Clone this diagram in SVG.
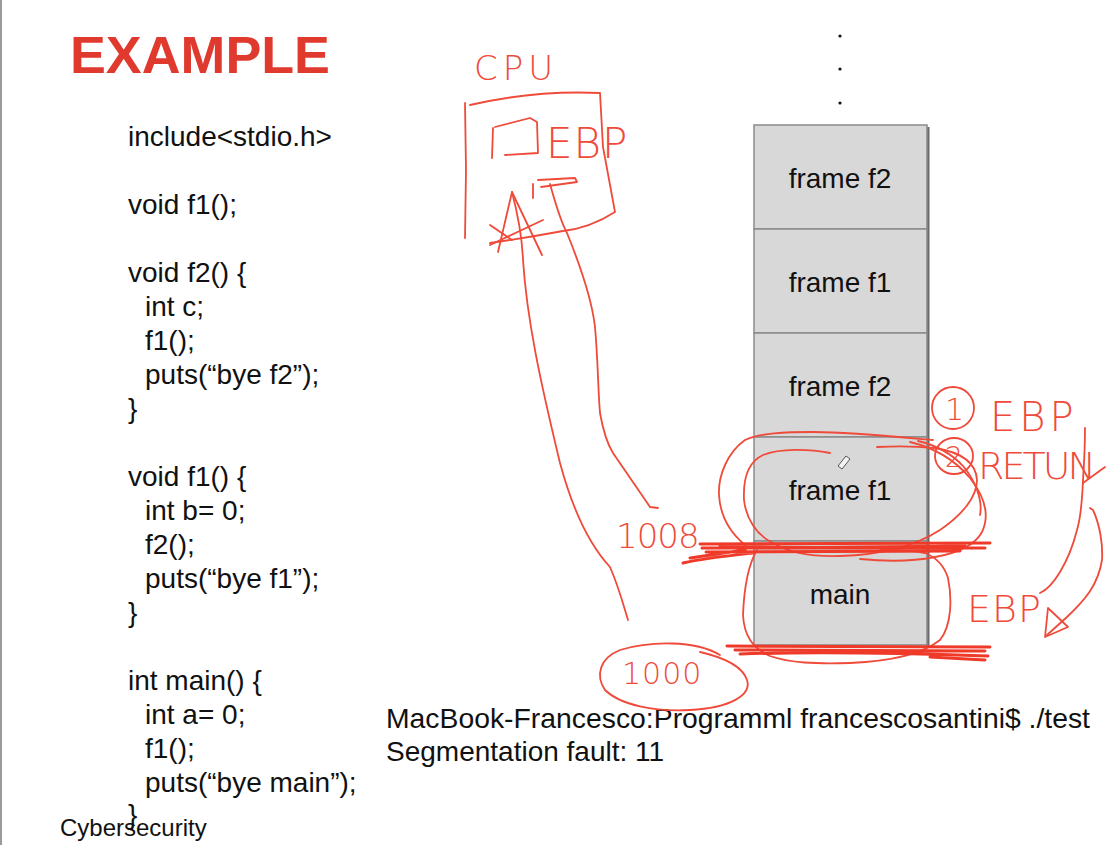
<svg xmlns="http://www.w3.org/2000/svg" width="1115" height="845" viewBox="0 0 1115 845">
<defs>
<style>
.code{font-family:"Liberation Sans",Arial,sans-serif;font-size:28px;fill:#111}
.frame rect.box{fill:#d8d8d8;stroke:#8a8a8a;stroke-width:1.5}
.frame rect.sh{fill:#6a6a6a}
.lbl{font-family:"Liberation Sans",Arial,sans-serif;font-size:28px;fill:#111;text-anchor:middle}
.ink{fill:none;stroke:#ef4a3a;stroke-width:1.8;stroke-linecap:round;stroke-linejoin:round}
.inkb{fill:none;stroke:#ef3a2a;stroke-width:3;stroke-linecap:round}
.hw{font-family:"DejaVu Sans",sans-serif;font-weight:200;fill:#ef4a3a}
</style>
</defs>
<rect width="1115" height="845" fill="#ffffff"/>
<rect x="0" y="0" width="2" height="845" fill="#9a9a9a"/>

<g id="title">
<text x="70" y="73" font-family="Liberation Sans,Arial,sans-serif" font-weight="bold" font-size="51" fill="#e03a2f" textLength="260" lengthAdjust="spacingAndGlyphs">EXAMPLE</text>
</g>

<g id="code">
<text class="code" x="128" y="146">include&lt;stdio.h&gt;</text>
<text class="code" x="128" y="214">void f1();</text>
<text class="code" x="128" y="282">void f2() {</text>
<text class="code" x="145" y="316">int c;</text>
<text class="code" x="145" y="350">f1();</text>
<text class="code" x="145" y="384">puts(“bye f2”);</text>
<text class="code" x="128" y="418">}</text>
<text class="code" x="128" y="486">void f1() {</text>
<text class="code" x="145" y="520">int b= 0;</text>
<text class="code" x="145" y="554">f2();</text>
<text class="code" x="145" y="588">puts(“bye f1”);</text>
<text class="code" x="128" y="622">}</text>
<text class="code" x="128" y="690">int main() {</text>
<text class="code" x="145" y="724">int a= 0;</text>
<text class="code" x="145" y="758">f1();</text>
<text class="code" x="145" y="792">puts(“bye main”);</text>
<text class="code" x="128" y="824">}</text>
</g>

<g id="footer">
<text x="60" y="836" font-family="Liberation Sans,Arial,sans-serif" font-size="24" fill="#111">Cybersecurity</text>
</g>

<g id="dots" fill="#111">
<circle cx="840" cy="36" r="1.6"/>
<circle cx="840" cy="69" r="1.6"/>
<circle cx="840" cy="103" r="1.6"/>
</g>

<g id="frame-f2-top" class="frame">
<rect class="sh" x="927" y="127" width="2.5" height="104"/>
<rect class="box" x="754" y="125" width="173" height="104"/>
<text class="lbl" x="840" y="188">frame f2</text>
</g>
<g id="frame-f1-upper" class="frame">
<rect class="sh" x="927" y="231" width="2.5" height="104"/>
<rect class="box" x="754" y="229" width="173" height="104"/>
<text class="lbl" x="840" y="292">frame f1</text>
</g>
<g id="frame-f2-lower" class="frame">
<rect class="sh" x="927" y="335" width="2.5" height="104"/>
<rect class="box" x="754" y="333" width="173" height="104"/>
<text class="lbl" x="840" y="396">frame f2</text>
</g>
<g id="frame-f1-lower" class="frame">
<rect class="sh" x="927" y="439" width="2.5" height="104"/>
<rect class="box" x="754" y="437" width="173" height="104"/>
<text class="lbl" x="840" y="500">frame f1</text>
</g>
<g id="frame-main" class="frame">
<rect class="sh" x="927" y="543" width="2.5" height="104"/>
<rect class="box" x="754" y="541" width="173" height="104"/>
<text class="lbl" x="840" y="604">main</text>
</g>

<g id="terminal">
<text x="386" y="728" font-family="Liberation Sans,Arial,sans-serif" font-size="28" fill="#111" textLength="704" lengthAdjust="spacingAndGlyphs">MacBook-Francesco:Programml francescosantini$ ./test</text>
<text x="386" y="761" font-family="Liberation Sans,Arial,sans-serif" font-size="28" fill="#111">Segmentation fault: 11</text>
</g>

<g id="cpu">
<text class="hw" x="474" y="80" font-size="34" letter-spacing="5">CPU</text>
<path class="ink" d="M465,103 L466,170 L465,238"/>
<path class="ink" d="M470,105 Q535,90 600,93 L603,147 L615,212 Q590,228 563,231 Q525,238 490,243"/>
<path class="ink" d="M493,128 L492,158 M495,127 L530,118 L537,122 L538,153 L505,155"/>
<text class="hw" x="546" y="158" font-size="42" letter-spacing="1">EBP</text>
<path class="ink" d="M533,184 L533,198 M538,180 L575,178 L577,182 L541,187"/>
</g>

<g id="connectors">
<path class="ink" d="M512,192 C518,215 522,235 523,260 C527,320 540,380 560,463 C570,500 585,540 610,567 C618,585 622,600 628,620"/>
<path class="ink" d="M498,252 L512,192 L542,255"/>
<path class="ink" d="M490,225 L512,240 M490,245 L543,220"/>
<path class="ink" d="M550,184 C556,205 560,220 567,233 C582,270 592,300 595,327 C598,360 598,390 600,413 C603,430 608,445 613,453 C628,475 640,492 650,507 L658,508"/>
<path class="ink" d="M1085,428 C1085,450 1084,465 1083,480 C1082,505 1080,520 1077,530 C1072,550 1066,562 1060,572 C1054,582 1047,590 1040,593"/>
<path class="ink" d="M1083,483 L1105,467"/>
<path class="ink" d="M1090,508 L1093,510 C1100,525 1103,545 1102,560 C1098,585 1085,600 1067,617 L1047,635"/>
<path class="ink" d="M1048,608 L1068,627 L1045,637 Z"/>
</g>

<g id="stack-marks">
<path class="ink" d="M830,453 C810,449 780,448 763,455 C748,462 743,480 744,500 C746,518 756,535 773,543 C790,553 810,557 840,556 C880,555 915,546 940,530 C962,515 977,497 977,480 C976,462 960,452 935,448 C915,446 895,446 877,447"/>
<path class="ink" d="M933,440 C900,437 850,432 813,432 C785,432 760,433 745,440 C728,452 718,475 719,495 C720,512 727,530 745,545 M910,442 C935,448 955,460 970,478 C985,497 990,515 982,532 C975,545 958,553 935,557 C910,562 880,561 860,559"/>
<path class="ink" d="M757,550 C748,565 744,590 743,615 C744,635 752,648 770,656 C790,663 815,664 850,663 C895,661 925,652 940,640 C952,625 952,598 948,578 C944,565 935,557 925,553 C905,549 890,550 880,550"/>
<path class="inkb" d="M700,544 L990,543 M702,548 L985,548 M706,552 L960,551 M720,546 C800,549 880,547 965,546 M683,563 C705,558 735,555 753,553 M690,558 L745,550"/>
<path class="inkb" d="M727,646 L990,647 M735,650 L985,651 M740,654 C800,652 900,653 988,656 M930,657 L985,660"/>
<path class="ink" d="M720,655 C695,640 650,641 620,650 C600,658 595,675 605,690 C620,705 655,712 690,710 C730,708 752,695 747,680 C742,665 722,657 700,652"/>
<text class="hw" x="622" y="684" font-size="30" letter-spacing="1">1000</text>
<text class="hw" x="616" y="548" font-size="34" letter-spacing="-1">1008</text>
<path d="M838,466 L846,456 L850,459 L842,469 Z" fill="#f4f4f4" stroke="#555" stroke-width="1"/>
</g>

<g id="notes">
<ellipse class="ink" cx="953" cy="408" rx="21" ry="21"/>
<text class="hw" x="945" y="420" font-size="30">1</text>
<text class="hw" x="990" y="431" font-size="40" letter-spacing="4">EBP</text>
<ellipse class="ink" cx="954" cy="456" rx="19" ry="18"/>
<text class="hw" x="945" y="467" font-size="28">2</text>
<text class="hw" x="978" y="479" font-size="38" letter-spacing="-3">RETUN</text>
<path class="ink" d="M918,441 C935,445 950,452 963,466 C975,480 983,500 980,515"/>
<text class="hw" x="967" y="622" font-size="38" letter-spacing="1">EBP</text>
</g>
</svg>
